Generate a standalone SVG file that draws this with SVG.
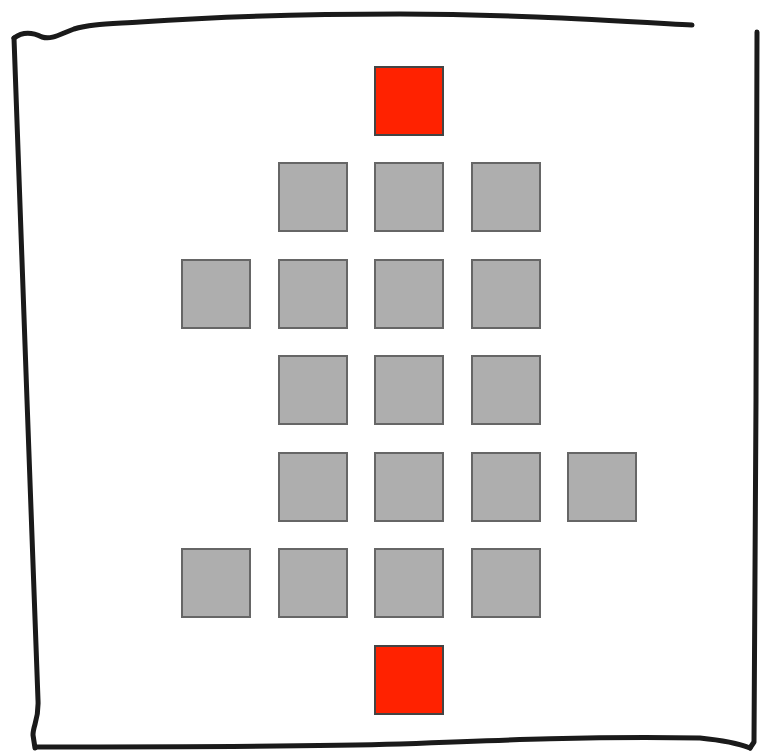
<svg xmlns="http://www.w3.org/2000/svg" width="760" height="752" viewBox="0 0 760 752">
<style>
.g{fill:#aeaeae;stroke:#666;stroke-width:2}
.r{fill:#ff2200;stroke:#444;stroke-width:2}
.f{fill:none;stroke:#1a1a1a;stroke-width:5;stroke-linecap:round;stroke-linejoin:round}
</style>
<rect width="760" height="752" fill="#fff"/>
<g id="frame">
<path class="f" d="M14,38 C22,32 32,32 42,37 C52,40 60,34 74,29 C90,24 110,24 140,22 C200,18 300,14 400,14 C500,14 600,20 692,25"/>
<path class="f" d="M757,32 C757,120 756,250 756,400 C756,560 755,660 754,742 L750,748"/>
<path class="f" d="M750,748 C735,742 720,740 700,738 C600,736 500,740 400,744 C300,747 150,747 36,747"/>
<path class="f" d="M14,38 C16,120 22,260 27,400 C31,520 36,620 38,700 C39,720 33,725 33,735 L35,748"/>
</g>
<g id="nodes">
<g id="r1"><rect class="r" x="375" y="67" width="68" height="68"/></g>
<g id="a1"><rect class="g" x="279" y="163" width="68" height="68"/></g>
<g id="a2"><rect class="g" x="375" y="163" width="68" height="68"/></g>
<g id="a3"><rect class="g" x="472" y="163" width="68" height="68"/></g>
<g id="b0"><rect class="g" x="182" y="260" width="68" height="68"/></g>
<g id="b1"><rect class="g" x="279" y="260" width="68" height="68"/></g>
<g id="b2"><rect class="g" x="375" y="260" width="68" height="68"/></g>
<g id="b3"><rect class="g" x="472" y="260" width="68" height="68"/></g>
<g id="c1"><rect class="g" x="279" y="356" width="68" height="68"/></g>
<g id="c2"><rect class="g" x="375" y="356" width="68" height="68"/></g>
<g id="c3"><rect class="g" x="472" y="356" width="68" height="68"/></g>
<g id="d1"><rect class="g" x="279" y="453" width="68" height="68"/></g>
<g id="d2"><rect class="g" x="375" y="453" width="68" height="68"/></g>
<g id="d3"><rect class="g" x="472" y="453" width="68" height="68"/></g>
<g id="d4"><rect class="g" x="568" y="453" width="68" height="68"/></g>
<g id="e0"><rect class="g" x="182" y="549" width="68" height="68"/></g>
<g id="e1"><rect class="g" x="279" y="549" width="68" height="68"/></g>
<g id="e2"><rect class="g" x="375" y="549" width="68" height="68"/></g>
<g id="e3"><rect class="g" x="472" y="549" width="68" height="68"/></g>
<g id="r2"><rect class="r" x="375" y="646" width="68" height="68"/></g>
</g>
<g id="connectors"/>
</svg>
